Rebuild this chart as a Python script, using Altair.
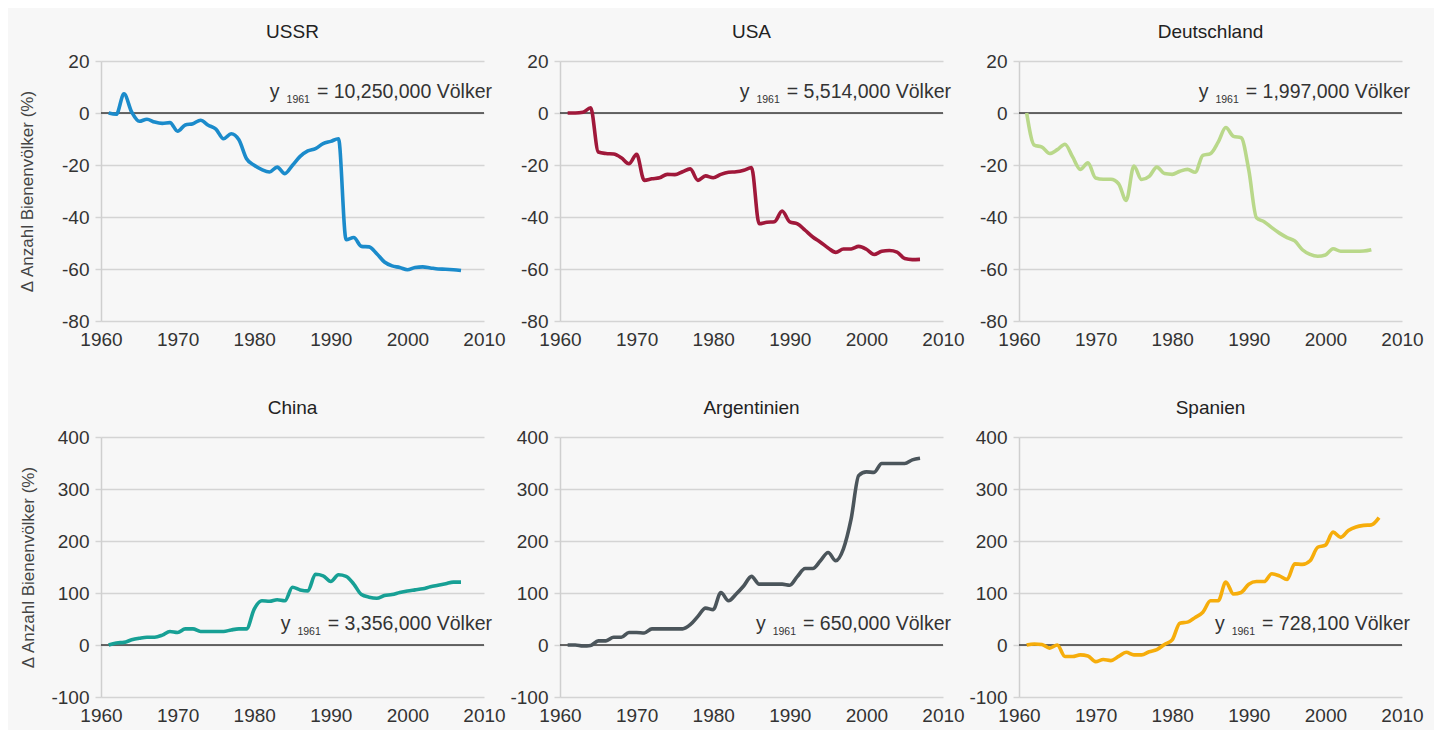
import altair as alt
import pandas as pd

# ---------------- data ----------------
countries = ["USSR", "USA", "Deutschland", "China", "Argentinien", "Spanien"]
base_counts = ["10,250,000", "5,514,000", "1,997,000", "3,356,000", "650,000", "728,100"]
colors = ["#1b8bcb", "#a0183a", "#b9d88a", "#17a095", "#4b555b", "#f6ad0b"]

years_full = list(range(1961, 2008))
years_de = list(range(1961, 2007))

ussr = [0, -0.5, 7.4, 0.4, -3.2, -2.4, -3.5, -4.0, -3.7, -7.0, -4.6, -4.1, -2.8, -4.7, -6.2,
        -9.9, -8.0, -10.3, -17.6, -20.1, -21.8, -22.7, -20.8, -23.3, -20.1, -16.7, -14.6,
        -13.7, -11.8, -10.9, -9.9, -48.7, -47.9, -51.3, -51.5, -54.1, -57.3, -58.8, -59.4,
        -60.3, -59.4, -59.2, -59.6, -60.0, -60.1, -60.3, -60.6]
usa = [0, 0, 0.3, 2, -15, -15.6, -15.8, -17.2, -19.5, -15.9, -25.9, -25.3, -24.9, -23.6,
       -23.7, -22.6, -21.5, -25.9, -24.2, -24.9, -23.6, -22.8, -22.6, -22, -21, -42.6, -42,
       -41.8, -37.7, -41.9, -42.6, -45.1, -47.7, -49.7, -51.9, -53.6, -52.3, -52.3, -51.3,
       -52.4, -54.4, -53.2, -52.9, -53.5, -56, -56.4, -56.3]
deutschland = [0, -12.4, -13.1, -15.6, -14.1, -12, -16.9, -21.7, -19.2, -25, -25.5, -25.5,
               -27.2, -33.6, -20.4, -25.6, -24.4, -20.8, -23.3, -23.6, -22.4, -21.7, -22.8,
               -16.3, -15.6, -11.2, -5.6, -9, -9.5, -22, -40.3, -41.8, -44.1, -46.2, -47.9,
               -49.2, -52.6, -54.4, -55.1, -54.6, -52.2, -53.2, -53.2, -53.2, -53.1, -52.6]
china = [0, 4, 5, 10, 13, 15, 15, 19, 26, 24, 31, 31, 26, 26, 26, 26, 29, 31, 31, 69, 85, 84,
         87, 85, 111, 106, 104, 136, 133, 122, 135, 132, 117, 97, 92, 90, 95, 97, 101, 104,
         106, 108, 112, 115, 118, 121, 121]
argentinien = [0, 0, -2, -1, 8, 8, 15, 15, 24, 24, 23, 31, 31, 31, 31, 31, 39, 55, 71, 68, 101,
               85, 98, 114, 132, 117, 117, 117, 117, 115, 132, 147, 147, 162, 178, 162, 185,
               242, 326, 333, 332, 349, 349, 349, 349, 356, 359]
spanien = [0, 2, 1, -6, 0, -22, -22, -19, -21, -32, -28, -30, -22, -14, -19, -19, -13, -9, 1,
           10, 42, 44, 53, 63, 85, 85, 121, 98, 101, 117, 122, 122, 137, 133, 126, 156, 155,
           162, 188, 192, 217, 207, 220, 227, 230, 231, 245]

series = [ussr, usa, deutschland, china, argentinien, spanien]
series_years = [years_full, years_full, years_de, years_full, years_full, years_full]

x_ticks = [1960, 1970, 1980, 1990, 2000, 2010]
top_ticks = [-80, -60, -40, -20, 0, 20]
bottom_ticks = [-100, 0, 100, 200, 300, 400]

# ---------------- style ----------------
FONT = "Liberation Sans"
W, H = 383, 260
MAIN_FS = 19.5
SUB_FS = 10.5
ARIAL = {"0": 556, "1": 556, "2": 556, "3": 556, "4": 556, "5": 556, "6": 556, "7": 556,
         "8": 556, "9": 556, ",": 278, " ": 278, "=": 584, "V": 667, "ö": 556, "l": 222,
         "k": 500, "e": 556, "r": 333, "y": 500}


def text_width(s, size):
    return sum(ARIAL.get(c, 556) for c in s) / 1000.0 * size


def panel(idx, domain, yticks, ann_value, left, title_pad):
    name = countries[idx]
    df = pd.DataFrame({"Jahr": series_years[idx], "Wert": series[idx]})
    x = alt.X("Jahr:Q",
              scale=alt.Scale(domain=[1960, 2010], nice=False, zero=False),
              axis=alt.Axis(values=x_ticks, format="d", title=None, grid=False,
                            ticks=False, tickSize=0, domain=False, labelPadding=9,
                            labelFlush=False, labelOverlap=False,
                            labelFontSize=19, labelColor="#333", labelFont=FONT))
    y = alt.Y("Wert:Q",
              scale=alt.Scale(domain=domain, nice=False, zero=False),
              axis=alt.Axis(values=yticks, title="Δ Anzahl Bienenvölker (%)" if left else None,
                            labelExpr="'' + datum.value",
                            grid=True, gridColor="#d4d4d4", gridWidth=1.5,
                            ticks=True, tickSize=6, tickColor="#d4d4d4", tickWidth=1.5,
                            domain=True, domainColor="#cfcfcf", domainWidth=1.5,
                            labelPadding=6, labelFontSize=19, labelColor="#333",
                            labelFont=FONT, titleFont=FONT, titleFontSize=17,
                            titleFontWeight="normal", titleColor="#444",
                            titlePadding=title_pad))
    line = alt.Chart(df).mark_line(color=colors[idx], strokeWidth=3.6,
                                   interpolate="monotone").encode(x=x, y=y)
    zero = alt.Chart(pd.DataFrame({"z": [0]})).mark_rule(
        color="#3a3a3a", strokeWidth=1.6).encode(y="z:Q")

    main = "= " + base_counts[idx] + " Völker"
    w_main = text_width(main, MAIN_FS)
    w_sub = text_width("1961", SUB_FS)
    right_dx = 8
    sub_dx = right_dx - w_main - 7
    y_dx = sub_dx - w_sub - 7

    ann = pd.DataFrame({"main": [main], "sub": ["1961"], "y": ["y"]})
    common = dict(font=FONT, color="#333", baseline="alphabetic", align="right")
    t_main = alt.Chart(ann).mark_text(fontSize=MAIN_FS, dx=right_dx, **common).encode(
        x=alt.datum(2010), y=alt.datum(ann_value), text="main:N")
    t_sub = alt.Chart(ann).mark_text(fontSize=SUB_FS, dx=sub_dx, dy=5, **common).encode(
        x=alt.datum(2010), y=alt.datum(ann_value), text="sub:N")
    t_y = alt.Chart(ann).mark_text(fontSize=MAIN_FS, dx=y_dx, **common).encode(
        x=alt.datum(2010), y=alt.datum(ann_value), text="y:N")

    return alt.layer(zero, line, t_main, t_sub, t_y).properties(
        width=W, height=H,
        title=alt.TitleParams(name, fontSize=19, font=FONT, fontWeight="normal",
                              color="#222", offset=10, anchor="middle"))


top = alt.hconcat(*[panel(i, [-80, 20], top_ticks, 5.8, i == 0, 25) for i in range(3)],
                  spacing=76, bounds="flush")
bottom = alt.hconcat(*[panel(i, [-100, 400], bottom_ticks, 29, i == 3, 13) for i in range(3, 6)],
                     spacing=76, bounds="flush")

chart = alt.vconcat(top, bottom, spacing=50).configure(
    background="#f7f7f7",
    padding={"left": 10, "top": 15, "right": 10, "bottom": 5},
).configure_view(stroke=None)

chart.save("out.html", embed_options={"renderer": "svg", "actions": False})
